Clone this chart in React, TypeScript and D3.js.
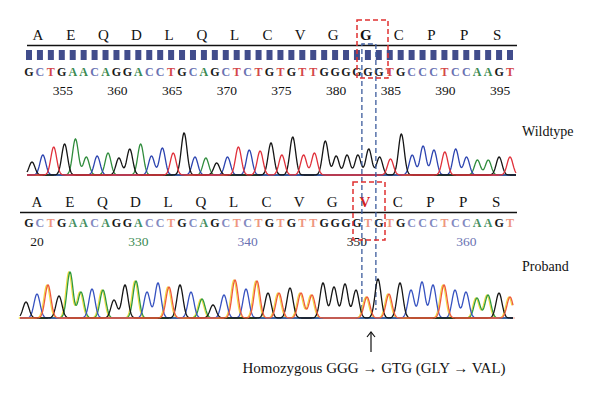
import React from "react";
import * as d3 from "d3";

// ---------- data ----------
const aminoWild = ["A", "E", "Q", "D", "L", "Q", "L", "C", "V", "G", "G", "C", "P", "P", "S"];
const aminoProband = ["A", "E", "Q", "D", "L", "Q", "L", "C", "V", "G", "V", "C", "P", "P", "S"];
const mutantCodon = 10; // index of boxed codon
const mutantBase = 31; // index of mutated nucleotide

const seqWild = "GCTGAACAGGACCTGCAGCTCTGTGTTGGGGGGTGCCCTCCAAGT".split("");
const seqProband = "GCTGAACAGGACCTGCAGCTCTGTGTTGGGGTGTGCCCTCCAAGT".split("");

const wildTickPositions = [355, 360, 365, 370, 375, 380, 385, 390, 395];
const wildStart = 352;
const probandTickLabels = ["20", "330", "340", "350", "360"];
const probandTickIndex = [0, 10, 20, 30, 40];

const peaksWild = [13, 20, 28, 31, 36, 18, 19, 22, 17, 26, 31, 19, 27, 22, 42, 18, 17, 12, 18, 28, 25, 24, 32, 20, 38, 20, 22, 34, 19, 20, 20, 26, 18, 16, 41, 20, 29, 25, 23, 26, 18, 15, 15, 18, 18];
const peaksProband = [16, 24, 33, 22, 46, 26, 29, 28, 18, 33, 37, 26, 35, 31, 33, 26, 19, 13, 23, 38, 29, 37, 25, 25, 30, 25, 23, 35, 31, 34, 28, 21, 39, 24, 35, 28, 36, 33, 33, 28, 26, 20, 23, 25, 21];

const traceColor: Record<string, string> = { G: "#151515", A: "#2f8c3c", T: "#e0303a", C: "#2c44b0" };
const traceColorP: Record<string, string> = { G: "#151515", A: "#2f9a3a", T: "#ef5a3a", C: "#3652c0" };
const letterColor: Record<string, string> = { G: "#1a1a1a", A: "#3a8a52", T: "#d4474a", C: "#6a72b2" };
const letterColorP: Record<string, string> = { G: "#1a1a1a", A: "#458f62", T: "#ee9680", C: "#8389c0" };

const SERIF = "'Liberation Serif', 'DejaVu Serif', serif";

function tracePaths(seq: string[], heights: number[], xs: d3.ScaleLinear<number, number>, ys: d3.ScaleLinear<number, number>, x0: number, x1: number, sigma: number) {
  const bases = ["A", "C", "G", "T"];
  const line = d3.line<[number, number]>().x((d) => d[0]).y((d) => ys(d[1]));
  const xsSample = d3.range(x0, x1 + 0.01, 0.5);
  return bases.map((b) => {
    const pts: [number, number][] = xsSample.map((x) => {
      let v = 0;
      seq.forEach((s, i) => {
        if (s === b) {
          const dx = x - xs(i);
          v += heights[i] * Math.exp(-(dx * dx) / (2 * sigma * sigma));
        }
      });
      return [x, v];
    });
    return { base: b, d: line(pts) || "" };
  });
}

export default function App() {
  const W = 600, H = 397;
  const xLetter = d3.scaleLinear().domain([0, seqWild.length - 1]).range([29, 510]);
  const xPeakW = d3.scaleLinear().domain([0, seqWild.length - 1]).range([32, 510]);
  const xPeakP = d3.scaleLinear().domain([0, seqProband.length - 1]).range([26, 510]);
  const yW = d3.scaleLinear().domain([0, 45]).range([175, 130]);
  const yP = d3.scaleLinear().domain([0, 50]).range([318, 268]);

  const wildTraces = tracePaths(seqWild, peaksWild, xPeakW, yW, 27, 516, 2.9);
  const probTraces = tracePaths(seqProband, peaksProband, xPeakP, yP, 20, 513, 3.0);

  const codonX = (k: number) => xLetter(k * 3 + 1);
  const bx0 = xLetter(mutantBase) - 6, bx1 = xLetter(mutantBase) + 8;

  return (
    <svg width={W} height={H} style={{ position: "absolute", left: 0, top: 0, background: "#fff" }}>
      {/* ---------- Wildtype ---------- */}
      {aminoWild.map((a, k) => (
        <text key={"aw" + k} x={codonX(k) - 2} y={40} fontFamily={SERIF} fontSize={15}
          fontWeight={k === mutantCodon ? "bold" : "normal"} textAnchor="middle" fill="#111">{a}</text>
      ))}
      <line x1={27} x2={517} y1={45.5} y2={45.5} stroke="#111" strokeWidth={1.5} />
      {seqWild.map((s, i) => (
        <rect key={"bar" + i} x={xLetter(i) - 3} y={50} width={6} height={10} fill="#414d8c" />
      ))}
      {seqWild.map((s, i) => (
        <text key={"nw" + i} x={xLetter(i)} y={76} fontFamily={SERIF} fontWeight="bold" fontSize={12}
          textAnchor="middle" fill={letterColor[s]}>{s}</text>
      ))}
      {wildTickPositions.map((p) => (
        <text key={"tw" + p} x={xLetter(p - wildStart) + 1} y={95} fontFamily={SERIF} fontSize={13.5}
          textAnchor="middle" fill="#111">{p}</text>
      ))}
      <line x1={27} x2={517} y1={175} y2={175} stroke="#d9a0a0" strokeWidth={1} strokeDasharray="3,3" />
      {wildTraces.map((t) => (
        <path key={"trw" + t.base} d={t.d} fill="none" stroke={traceColor[t.base]} strokeWidth={1.3} />
      ))}
      <text x={522} y={136} fontFamily={SERIF} fontSize={14} fill="#111">Wildtype</text>

      {/* ---------- Proband ---------- */}
      {aminoProband.map((a, k) => (
        <text key={"ap" + k} x={codonX(k) - 3} y={207} fontFamily={SERIF} fontSize={15}
          fontWeight={k === mutantCodon ? "bold" : "normal"} textAnchor="middle"
          fill={k === mutantCodon ? "#d42020" : "#111"}>{a}</text>
      ))}
      <line x1={20} x2={517} y1={212.5} y2={212.5} stroke="#111" strokeWidth={1.5} />
      {seqProband.map((s, i) => (
        <text key={"np" + i} x={xLetter(i)} y={227} fontFamily={SERIF} fontWeight="bold" fontSize={12}
          textAnchor="middle" fill={letterColorP[s]}>{s}</text>
      ))}
      {probandTickLabels.map((l, j) => (
        <text key={"tp" + l} x={xLetter(probandTickIndex[j]) + (j === 0 ? 8 : 0)} y={246} fontFamily={SERIF} fontSize={13.5}
          textAnchor="middle" fill={letterColor[seqProband[probandTickIndex[j]]]}>{l}</text>
      ))}
      <line x1={20} x2={515} y1={318} y2={318} stroke="#f0a090" strokeWidth={1.2} />

      {/* dashed highlight boxes */}
      <path d={`M${bx0},310 V44 H${bx1} V310`} fill="none" stroke="#3d5c9c" strokeWidth={1.3} strokeDasharray="5,3" />
      <rect x={357} y={20} width={31} height={58} fill="none" stroke="#e03030" strokeWidth={1.5} strokeDasharray="5,3" />
      <rect x={353} y={182} width={32} height={58} fill="none" stroke="#e03030" strokeWidth={1.5} strokeDasharray="5,3" />

      {probTraces.filter((t) => t.base === "T" || t.base === "A").map((t) => (
        <path key={"halo" + t.base} d={t.d} fill="none" stroke="#f2dc3c" strokeWidth={1.1} transform="translate(-1.2,0)" />
      ))}
      {probTraces.map((t) => (
        <path key={"trp" + t.base} d={t.d} fill="none" stroke={traceColorP[t.base]} strokeWidth={1.3} />
      ))}
      <text x={522} y={271} fontFamily={SERIF} fontSize={14} fill="#111">Proband</text>

      {/* arrow and annotation */}
      <line x1={371} x2={371} y1={352} y2={332} stroke="#111" strokeWidth={1.2} />
      <path d="M367,337 L371,332 L375,337" fill="none" stroke="#111" strokeWidth={1.2} />
      <text x={374} y={373} fontFamily={SERIF} fontSize={15} textAnchor="middle" fill="#111">
        Homozygous GGG → GTG (GLY → VAL)
      </text>
    </svg>
  );
}
